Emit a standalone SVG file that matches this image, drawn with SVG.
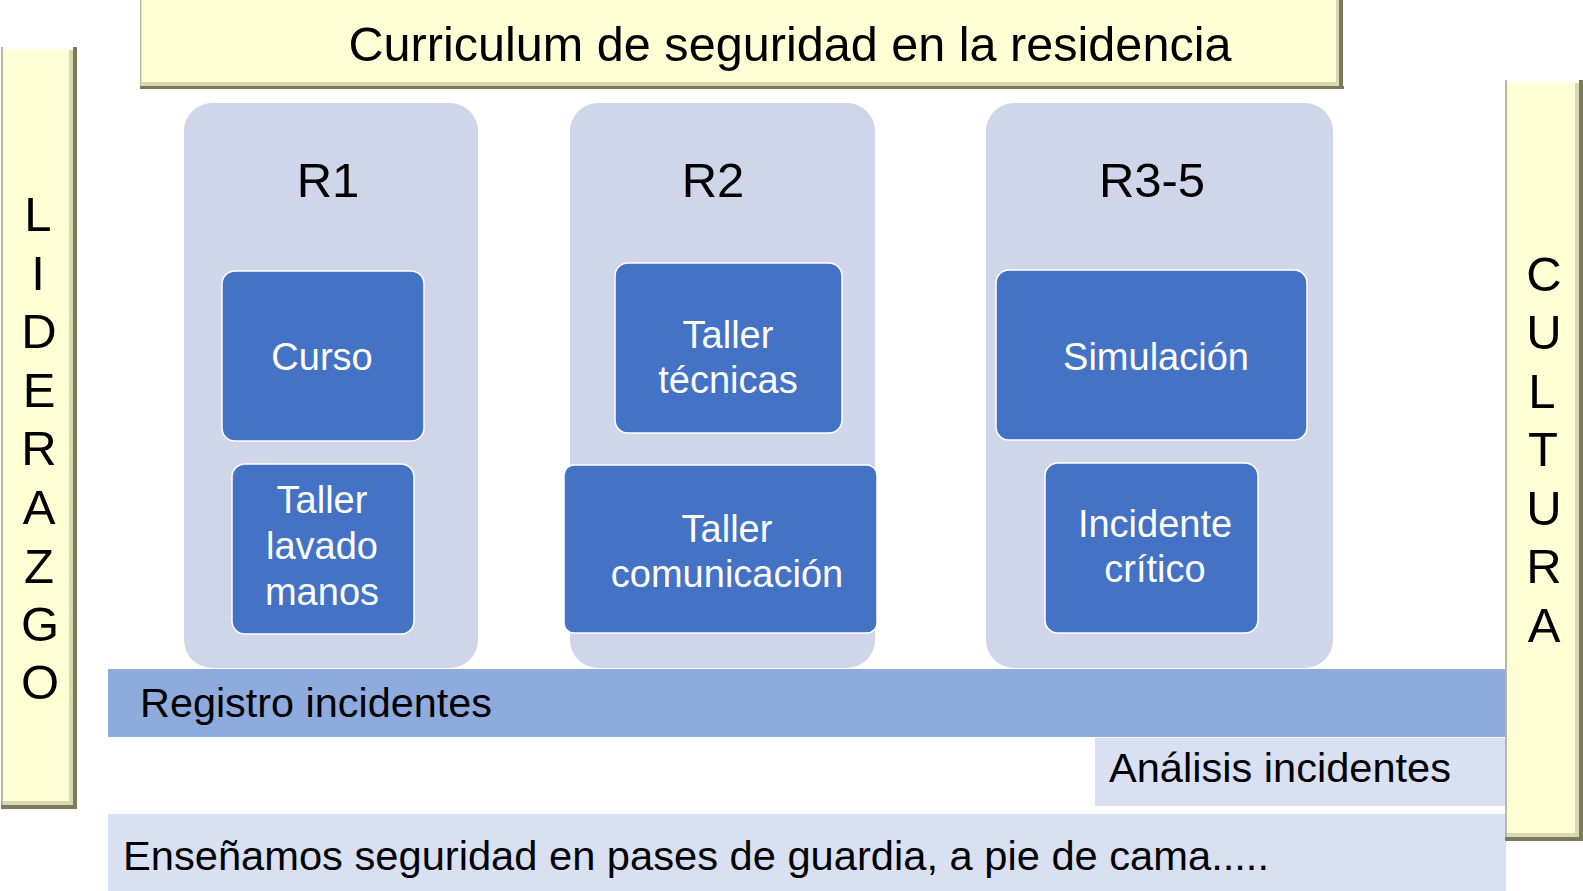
<svg xmlns="http://www.w3.org/2000/svg" width="1583" height="891" viewBox="0 0 1583 891">
<style>
.t{font-family:"Liberation Sans",Arial,Helvetica,sans-serif;fill:#000}
.w{font-family:"Liberation Sans",Arial,Helvetica,sans-serif;fill:#fff;font-size:38px;text-anchor:middle}
.bar{fill:#FFFFD6}
.dk{fill:#7A7A5C}
.md{fill:#D9D9AE}
.lt{fill:#B9B99C}
.panel{fill:#CFD6EA}
.box{fill:#4472C4;stroke:#fff;stroke-width:1.5}
.big{font-size:49px;text-anchor:middle}
.band{font-size:41px}
</style>
<rect width="1583" height="891" fill="#fff"/>

<g id="title">
<rect class="bar" x="140" y="0" width="1204" height="89"/>
<rect class="lt" x="140" y="0" width="1.5" height="89"/>
<rect class="md" x="141" y="82" width="1198" height="4"/>
<rect class="dk" x="140" y="86" width="1204" height="3"/>
<rect class="md" x="1336" y="0" width="3" height="86"/>
<rect class="dk" x="1339" y="0" width="4" height="89"/>
<text class="t" x="790" y="61" font-size="49" text-anchor="middle" textLength="883" lengthAdjust="spacingAndGlyphs">Curriculum de seguridad en la residencia</text>
</g>

<g id="liderazgo">
<rect class="bar" x="1" y="47" width="76" height="762"/>
<rect fill="#fff" x="3" y="47" width="70" height="3" opacity="0.8"/>
<rect class="lt" x="1" y="47" width="2" height="762"/>
<rect class="md" x="69" y="50" width="4" height="754"/>
<rect class="dk" x="73" y="47" width="4" height="762"/>
<rect class="md" x="3" y="801" width="70" height="4"/>
<rect class="dk" x="1" y="805" width="76" height="4"/>
<g class="t" font-size="49" text-anchor="middle">
<text x="38" y="231">L</text>
<text x="38" y="290">I</text>
<text x="39" y="348">D</text>
<text x="39" y="407">E</text>
<text x="39" y="465">R</text>
<text x="39" y="524">A</text>
<text x="39" y="583">Z</text>
<text x="40" y="641">G</text>
<text x="40" y="699">O</text>
</g>
</g>

<g id="r1">
<rect class="panel" x="184" y="103" width="294" height="565" rx="28"/>
<text class="t big" x="328" y="197">R1</text>
</g>
<g id="r2">
<rect class="panel" x="570" y="103" width="305" height="565" rx="28"/>
<text class="t big" x="713" y="197">R2</text>
</g>
<g id="r35">
<rect class="panel" x="986" y="103" width="347" height="565" rx="28"/>
<text class="t big" x="1152" y="197">R3-5</text>
</g>

<g id="curso">
<rect class="box" x="222" y="271" width="202" height="170" rx="13"/>
<text class="w" x="322" y="370">Curso</text>
</g>
<g id="lavado">
<rect class="box" x="232" y="464" width="182" height="170" rx="13"/>
<text class="w" x="322" y="513">Taller</text>
<text class="w" x="322" y="559">lavado</text>
<text class="w" x="322" y="605">manos</text>
</g>
<g id="tecnicas">
<rect class="box" x="615" y="263" width="227" height="170" rx="13"/>
<text class="w" x="728" y="348">Taller</text>
<text class="w" x="728" y="393">técnicas</text>
</g>
<g id="comunicacion">
<rect class="box" x="564" y="465" width="313" height="168" rx="10"/>
<text class="w" x="727" y="542">Taller</text>
<text class="w" x="727" y="587">comunicación</text>
</g>
<g id="simulacion">
<rect class="box" x="996" y="270" width="311" height="170" rx="13"/>
<text class="w" x="1156" y="370">Simulación</text>
</g>
<g id="incidente">
<rect class="box" x="1045" y="463" width="213" height="170" rx="13"/>
<text class="w" x="1155" y="537">Incidente</text>
<text class="w" x="1155" y="582">crítico</text>
</g>

<g id="registro">
<rect x="108" y="669" width="1398" height="68" fill="#8FAADC"/>
<text class="t band" x="140" y="717" textLength="352" lengthAdjust="spacingAndGlyphs">Registro incidentes</text>
</g>
<g id="analisis">
<rect x="1095" y="738" width="411" height="68" fill="#D8E0F1"/>
<text class="t band" x="1109" y="782" textLength="342" lengthAdjust="spacingAndGlyphs">Análisis incidentes</text>
</g>
<g id="ensenamos">
<rect x="108" y="814" width="1398" height="77" fill="#D8E0F1"/>
<text class="t band" x="123" y="870" textLength="1146" lengthAdjust="spacingAndGlyphs">Enseñamos seguridad en pases de guardia, a pie de cama.....</text>
</g>

<g id="cultura">
<rect class="bar" x="1505" y="80" width="78" height="761"/>
<rect fill="#fff" x="1507" y="80" width="72" height="3" opacity="0.8"/>
<rect class="lt" x="1505" y="80" width="2" height="761"/>
<rect class="md" x="1575" y="83" width="4" height="750"/>
<rect class="dk" x="1579" y="80" width="4" height="761"/>
<rect class="md" x="1507" y="833" width="72" height="4"/>
<rect class="dk" x="1505" y="837" width="78" height="4"/>
<g class="t" font-size="49" text-anchor="middle">
<text x="1544" y="291">C</text>
<text x="1544" y="349">U</text>
<text x="1542" y="408">L</text>
<text x="1543" y="466">T</text>
<text x="1544" y="525">U</text>
<text x="1544" y="583">R</text>
<text x="1544" y="642">A</text>
</g>
</g>
<g id="connectors"/>
</svg>
